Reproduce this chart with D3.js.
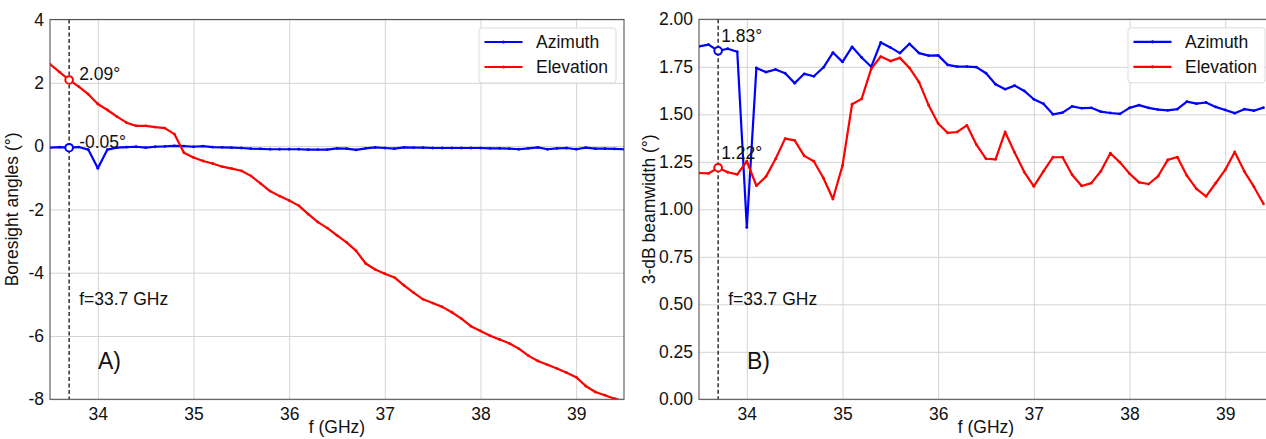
<!DOCTYPE html>
<html><head><meta charset="utf-8">
<script src="https://cdn.jsdelivr.net/npm/d3@7"></script>
<style>
body{margin:0;background:#fff}
svg{display:block}
text{font-family:"Liberation Sans",Arial,sans-serif;fill:#111}
</style>
</head><body>
<svg id="c" width="1266" height="439"></svg>
<script>
// ---------- data ----------
const freqA = [33.5,33.6,33.7,33.8,33.9,34.0,34.1,34.2,34.3,34.4,34.5,34.6,34.7,34.8,34.9,35.0,35.1,35.2,35.3,35.4,35.5,35.6,35.7,35.8,35.9,36.0,36.1,36.2,36.3,36.4,36.5,36.6,36.7,36.8,36.9,37.0,37.1,37.2,37.3,37.4,37.5,37.6,37.7,37.8,37.9,38.0,38.1,38.2,38.3,38.4,38.5,38.6,38.7,38.8,38.9,39.0,39.1,39.2,39.3,39.4,39.5];
const boresightAz = [-0.05,-0.03,-0.05,-0.03,-0.11,-0.70,-0.11,-0.05,-0.03,-0.02,-0.05,-0.02,-0.01,0.01,0.00,-0.02,0.00,-0.03,-0.04,-0.05,-0.06,-0.08,-0.09,-0.10,-0.10,-0.10,-0.10,-0.11,-0.11,-0.11,-0.07,-0.08,-0.12,-0.07,-0.04,-0.06,-0.08,-0.04,-0.05,-0.05,-0.06,-0.06,-0.06,-0.06,-0.06,-0.06,-0.07,-0.07,-0.08,-0.10,-0.07,-0.04,-0.10,-0.07,-0.06,-0.10,-0.05,-0.08,-0.08,-0.09,-0.10];
const boresightEl = [2.59,2.34,2.09,1.88,1.64,1.33,1.14,0.93,0.74,0.64,0.64,0.60,0.57,0.38,-0.21,-0.36,-0.47,-0.55,-0.65,-0.71,-0.78,-0.94,-1.18,-1.42,-1.58,-1.72,-1.88,-2.15,-2.40,-2.59,-2.82,-3.04,-3.31,-3.71,-3.90,-4.03,-4.15,-4.40,-4.63,-4.84,-4.96,-5.08,-5.25,-5.45,-5.69,-5.84,-5.99,-6.11,-6.23,-6.40,-6.62,-6.79,-6.91,-7.03,-7.16,-7.30,-7.58,-7.77,-7.87,-7.98,-8.06];

const freqB = [33.5,33.6,33.7,33.8,33.9,34.0,34.1,34.2,34.3,34.4,34.5,34.6,34.7,34.8,34.9,35.0,35.1,35.2,35.3,35.4,35.5,35.6,35.7,35.8,35.9,36.0,36.1,36.2,36.3,36.4,36.5,36.6,36.7,36.8,36.9,37.0,37.1,37.2,37.3,37.4,37.5,37.6,37.7,37.8,37.9,38.0,38.1,38.2,38.3,38.4,38.5,38.6,38.7,38.8,38.9,39.0,39.1,39.2,39.3,39.4];
const beamAz = [1.857,1.867,1.834,1.845,1.829,0.905,1.744,1.722,1.736,1.716,1.664,1.713,1.700,1.746,1.825,1.776,1.855,1.799,1.750,1.878,1.852,1.822,1.871,1.822,1.809,1.810,1.760,1.751,1.751,1.748,1.716,1.658,1.632,1.651,1.623,1.579,1.556,1.500,1.509,1.542,1.532,1.534,1.514,1.507,1.502,1.534,1.548,1.534,1.525,1.521,1.527,1.567,1.556,1.562,1.539,1.523,1.506,1.527,1.519,1.535];
const beamEl = [1.191,1.189,1.219,1.195,1.184,1.253,1.124,1.172,1.265,1.372,1.363,1.281,1.253,1.165,1.054,1.230,1.553,1.581,1.739,1.804,1.780,1.797,1.744,1.669,1.548,1.452,1.402,1.407,1.442,1.340,1.266,1.263,1.407,1.298,1.196,1.121,1.200,1.274,1.274,1.182,1.123,1.138,1.200,1.295,1.247,1.188,1.142,1.133,1.175,1.260,1.275,1.177,1.108,1.068,1.137,1.207,1.302,1.200,1.119,1.029];

const xTicks = [34,35,36,37,38,39];
const yTicksA = [-8,-6,-4,-2,0,2,4];
const yTicksB = [0,0.25,0.5,0.75,1.0,1.25,1.5,1.75,2.0];
const seriesNames = ["Azimuth","Elevation"];
const seriesColors = ["#0000ff","#ff0000"];
const markerFreq = 33.7;
const markerLabelsA = ["-0.05°","2.09°"];
const markerLabelsB = ["1.83°","1.22°"];

// ---------- drawing ----------
const svg = d3.select("#c");
const FS = 17.5;

function panel(cfg){
  const g = svg.append("g");
  const x = d3.scaleLinear().domain([33.5,39.5]).range(cfg.xr);
  const y = d3.scaleLinear().domain(cfg.yd).range(cfg.yr);
  const [x0,x1] = cfg.xr, [y1,y0] = cfg.yr;
  const clipId = "clip"+cfg.id;
  svg.append("clipPath").attr("id",clipId).append("rect")
    .attr("x",x0).attr("y",y0).attr("width",x1-x0).attr("height",y1-y0);

  // grid
  g.append("g").attr("transform",`translate(0,${y1})`)
    .call(d3.axisBottom(x).tickValues(xTicks).tickSize(-(y1-y0)).tickFormat(""))
    .call(a=>{a.select(".domain").remove();a.selectAll("line").attr("stroke","#d4d4d4").attr("stroke-width",1);});
  g.append("g").attr("transform",`translate(${x0},0)`)
    .call(d3.axisLeft(y).tickValues(cfg.yt).tickSize(-(x1-x0)).tickFormat(""))
    .call(a=>{a.select(".domain").remove();a.selectAll("line").attr("stroke","#d4d4d4").attr("stroke-width",1);});

  // tick labels
  g.append("g").attr("transform",`translate(0,${y1})`)
    .call(d3.axisBottom(x).tickValues(xTicks).tickSize(0).tickPadding(8).tickFormat(d=>String(d)))
    .call(a=>{a.select(".domain").remove();a.selectAll("text").attr("font-size",FS).attr("fill","#111");});
  g.append("g").attr("transform",`translate(${x0},0)`)
    .call(d3.axisLeft(y).tickValues(cfg.yt).tickSize(0).tickPadding(6).tickFormat(cfg.fmt))
    .call(a=>{a.select(".domain").remove();a.selectAll("text").attr("font-size",FS).attr("fill","#111");});

  // axis labels
  g.append("text").attr("x",(x0+x1)/2).attr("y",433).attr("text-anchor","middle")
    .attr("font-size",FS).text("f (GHz)");
  g.append("text").attr("transform",`translate(${cfg.ylx},${(y0+y1)/2}) rotate(-90)`)
    .attr("text-anchor","middle").attr("font-size",FS).text(cfg.ylabel);

  // data
  const plot = g.append("g").attr("clip-path",`url(#${clipId})`);
  cfg.series.forEach((vals,i)=>{
    const pts = cfg.freq.map((f,j)=>[f,vals[j]]);
    plot.append("path").datum(pts)
      .attr("fill","none").attr("stroke",seriesColors[i]).attr("stroke-width",2.2)
      .attr("stroke-linejoin","round")
      .attr("d",d3.line().x(d=>x(d[0])).y(d=>y(d[1])));
    plot.selectAll(null).data(pts).enter().append("circle")
      .attr("cx",d=>x(d[0])).attr("cy",d=>y(d[1])).attr("r",1.4)
      .attr("fill",seriesColors[i]);
  });

  // marker vertical line
  g.append("line").attr("x1",x(markerFreq)).attr("x2",x(markerFreq))
    .attr("y1",y0).attr("y2",y1).attr("stroke","#111").attr("stroke-width",1.3)
    .attr("stroke-dasharray","4,2.5");
  cfg.series.forEach((vals,i)=>{
    const j = cfg.freq.indexOf(markerFreq);
    const px = x(markerFreq), py = y(vals[j]);
    g.append("circle").attr("cx",px).attr("cy",py).attr("r",3.8)
      .attr("fill","#fff").attr("stroke",seriesColors[i]).attr("stroke-width",2);
    g.append("text").attr("x",px+cfg.lblDx).attr("y",py+cfg.lblDy)
      .attr("font-size",FS).text(cfg.labels[i]);
  });
  g.append("text").attr("x",x(markerFreq)+cfg.fDx).attr("y",305)
    .attr("font-size",FS).text("f=33.7 GHz");
  g.append("text").attr("x",cfg.tagX).attr("y",369)
    .attr("font-size",23).text(cfg.tag);

  // spines
  g.append("rect").attr("x",x0).attr("y",y0).attr("width",x1-x0).attr("height",y1-y0)
    .attr("fill","none").attr("stroke","#555").attr("stroke-width",1.1);

  // legend
  const lx = x1-8-137, ly = y0+8.5;
  const lg = g.append("g").attr("transform",`translate(${lx},${ly})`);
  lg.append("rect").attr("width",137).attr("height",55).attr("rx",3)
    .attr("fill","#fff").attr("fill-opacity",0.85).attr("stroke","#dcdcdc").attr("stroke-width",1);
  seriesNames.forEach((n,i)=>{
    const yy = 14 + i*25;
    lg.append("line").attr("x1",5.5).attr("x2",43.5).attr("y1",yy).attr("y2",yy)
      .attr("stroke",seriesColors[i]).attr("stroke-width",2.2);
    lg.append("circle").attr("cx",24.5).attr("cy",yy).attr("r",1.6).attr("fill",seriesColors[i]);
    lg.append("text").attr("x",57).attr("y",yy+6).attr("font-size",FS).text(n);
  });
}

panel({id:"A", xr:[50,624], yr:[399.3,19.5], yd:[-8,4], yt:yTicksA,
  fmt:d=>String(d), ylabel:"Boresight angles (°)", ylx:18,
  freq:freqA, series:[boresightAz,boresightEl], labels:markerLabelsA,
  lblDx:10, lblDy:0, fDx:10, tag:"A)", tagX:98});
panel({id:"B", xr:[699,1273], yr:[399.3,19.3], yd:[0,2], yt:yTicksB,
  fmt:d=>d.toFixed(2), ylabel:"3-dB beamwidth (°)", ylx:655,
  freq:freqB, series:[beamAz,beamEl], labels:markerLabelsB,
  lblDx:3, lblDy:-9, fDx:10, tag:"B)", tagX:747});
</script>
</body></html>
